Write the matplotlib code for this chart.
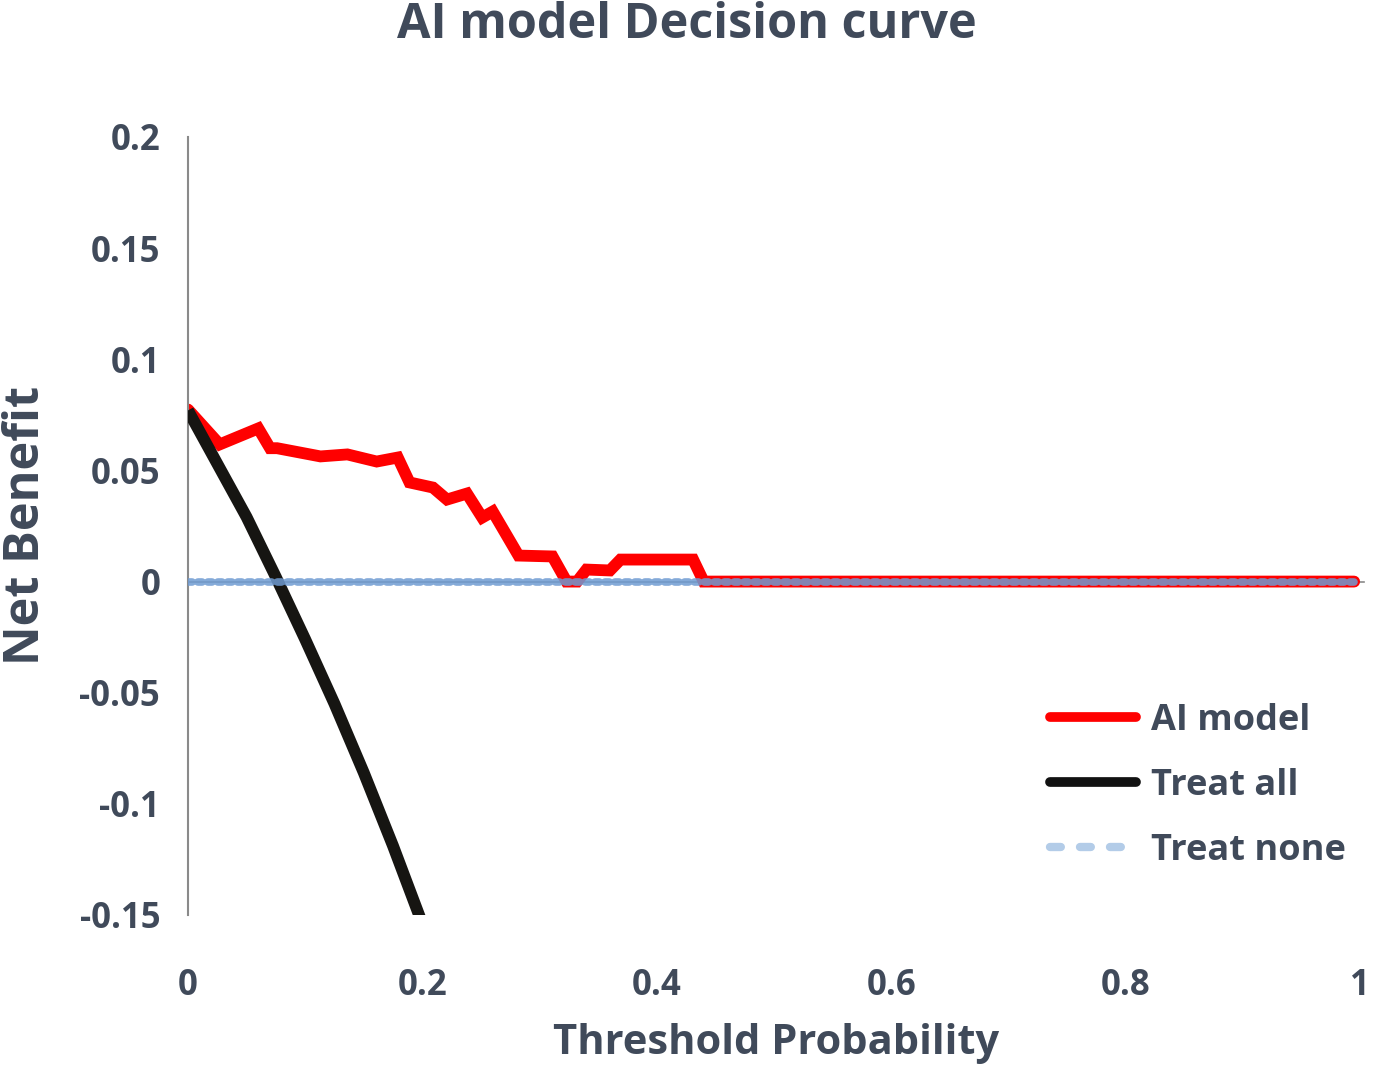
import numpy as np
import matplotlib.pyplot as plt
from matplotlib.lines import Line2D

# AI model net benefit
ai_threshold = [0.0, 0.027, 0.060, 0.070, 0.076, 0.113, 0.136, 0.161, 0.179, 0.189,
                0.209, 0.221, 0.238, 0.251, 0.260, 0.282, 0.311, 0.323, 0.332, 0.340,
                0.360, 0.369, 0.431, 0.440, 0.995]
ai_benefit = [0.0774, 0.0617, 0.0689, 0.0600, 0.0600, 0.0563, 0.0572, 0.0540, 0.0558, 0.0446,
              0.0423, 0.0369, 0.0396, 0.0288, 0.0315, 0.0117, 0.0113, 0.0, 0.0, 0.0054,
              0.0050, 0.0099, 0.0099, 0.0, 0.0]

# Treat all curve
all_threshold = [0.0, 0.025, 0.05, 0.075, 0.10, 0.125, 0.15, 0.175, 0.20, 0.21]
all_benefit = [0.077, 0.053, 0.029, 0.002, -0.026, -0.055, -0.086, -0.119, -0.154, -0.168]

# Treat none
none_threshold = [0.0, 0.995]
none_benefit = [0.0, 0.0]

x_ticks = [0, 0.2, 0.4, 0.6, 0.8, 1]
x_labels = ["0", "0.2", "0.4", "0.6", "0.8", "1"]
y_ticks = [-0.15, -0.1, -0.05, 0, 0.05, 0.1, 0.15, 0.2]
y_labels = ["-0.15", "-0.1", "-0.05", "0", "0.05", "0.1", "0.15", "0.2"]

text_color = "#404a5a"
plt.rcParams['font.family'] = ['Open Sans', 'DejaVu Sans']

fig = plt.figure(figsize=(13.76, 10.72), dpi=100)
ax = fig.add_axes([188 / 1376, 1 - 915 / 1072, (1360 - 188) / 1376, (915 - 137) / 1072])

# gray horizontal axis line at zero
ax.plot([0, 1.003], [0, 0], color="#8a8a8a", linewidth=1.2, zorder=1, clip_on=False)

ax.plot(ai_threshold, ai_benefit, color="#ff0000", linewidth=8.5, solid_capstyle="round",
        solid_joinstyle="miter", zorder=2)
ax.plot(all_threshold, all_benefit, color="#161512", linewidth=8.5, solid_capstyle="butt", zorder=3)
ax.plot(none_threshold, none_benefit, color="#6f9bd2", linewidth=5.5, alpha=0.85,
        linestyle=(0, (0.55, 0.75)), dash_capstyle="round", zorder=4)

ax.set_xlim(0, 1)
ax.set_ylim(-0.15, 0.2)
ax.set_xticks(x_ticks)
ax.set_xticklabels(x_labels)
ax.set_yticks(y_ticks)
ax.set_yticklabels(y_labels)
ax.tick_params(axis="x", length=0, pad=38, labelsize=25, labelcolor=text_color)
ax.tick_params(axis="y", length=0, pad=20, labelsize=25, labelcolor=text_color)
for lbl in ax.get_xticklabels() + ax.get_yticklabels():
    lbl.set_fontweight("bold")

for side in ["top", "right", "bottom"]:
    ax.spines[side].set_visible(False)
ax.spines["left"].set_color("#8a8a8a")
ax.spines["left"].set_linewidth(1.5)

fig.text(687 / 1376, 1 - 25 / 1072, "AI model Decision curve", ha="center", va="center",
         fontsize=35, fontweight="bold", color=text_color)
fig.text(27 / 1376, 1 - 525 / 1072, "Net Benefit", ha="center", va="center", rotation=90,
         fontsize=35, fontweight="bold", color=text_color)
fig.text(776 / 1376, 1 - 1043 / 1072, "Threshold Probability", ha="center", va="center",
         fontsize=30, fontweight="bold", color=text_color)

handles = [
    Line2D([], [], color="#ff0000", linewidth=7, solid_capstyle="round"),
    Line2D([], [], color="#111111", linewidth=7, solid_capstyle="round"),
    Line2D([], [], color="#b3cce8", linewidth=6, linestyle=(0, (1.3, 2.3)), dash_capstyle="round"),
]
leg = ax.legend(handles, ["AI model", "Treat all", "Treat none"], loc="center left",
                bbox_to_anchor=(0.723, 0.166), borderaxespad=0, frameon=False, fontsize=26,
                handlelength=2.4, handletextpad=0.4, labelspacing=0.8, labelcolor=text_color)
for t in leg.get_texts():
    t.set_fontweight("bold")

fig.savefig("out.png", dpi=100, facecolor="white")
